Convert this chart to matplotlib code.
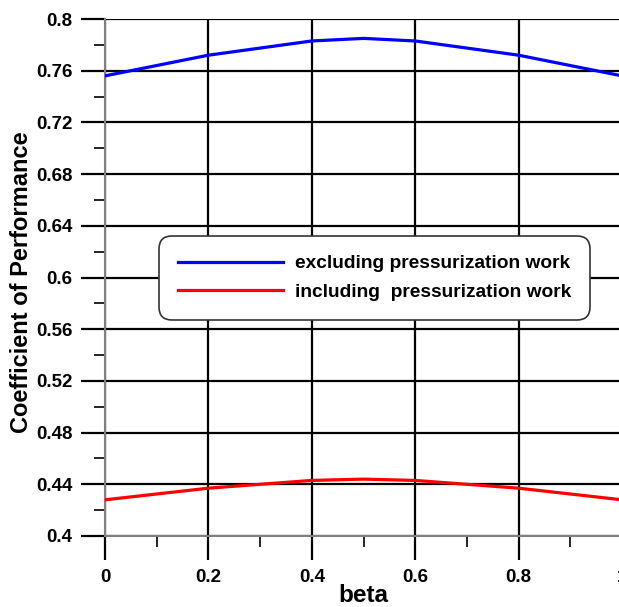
import numpy as np
import matplotlib
matplotlib.use("Agg")
import matplotlib.pyplot as plt
from matplotlib.ticker import MultipleLocator

beta = [0.0, 0.2, 0.4, 0.5, 0.6, 0.8, 1.0]
cop_excl = [0.756, 0.772, 0.783, 0.785, 0.783, 0.772, 0.756]
cop_incl = [0.428, 0.437, 0.443, 0.444, 0.443, 0.437, 0.428]
labels = ["excluding pressurization work", "including  pressurization work"]

plt.rcParams['font.family'] = ['Liberation Sans', 'DejaVu Sans']
plt.rcParams['font.weight'] = 'bold'

fig = plt.figure(figsize=(6.19, 6.07), dpi=100)
ax = fig.add_axes([105/619, 71/607, 517/619, 517/607])

ax.plot(beta, cop_excl, color="#0000ff", lw=2.3, label=labels[0], zorder=3)
ax.plot(beta, cop_incl, color="#ff0000", lw=2.3, label=labels[1], zorder=3)

ax.set_xlim(0, 1)
ax.set_ylim(0.4, 0.8)
ax.xaxis.set_minor_locator(MultipleLocator(0.1))
ax.yaxis.set_minor_locator(MultipleLocator(0.02))
ax.set_xticks([0, 0.2, 0.4, 0.6, 0.8, 1.0])
ax.set_xticklabels(["0", "0.2", "0.4", "0.6", "0.8", "1"])
ax.set_yticks(np.arange(0.4, 0.801, 0.04))
ax.set_yticklabels(["0.4", "0.44", "0.48", "0.52", "0.56", "0.6",
                    "0.64", "0.68", "0.72", "0.76", "0.8"])

ax.grid(True, which="major", color="black", lw=1.6, zorder=1)
ax.tick_params(which="major", direction="out", length=17, width=1.6,
               color="black", labelsize=13.5)
ax.tick_params(axis="x", which="major", pad=7)
ax.tick_params(axis="y", which="major", pad=6.5)
ax.tick_params(which="minor", direction="out", length=8, width=1.2, color="black")
for lbl in ax.get_xticklabels() + ax.get_yticklabels():
    lbl.set_fontweight("bold")

for s in ["left", "bottom"]:
    ax.spines[s].set_color("#808080")
    ax.spines[s].set_linewidth(1.5)
ax.spines["top"].set_visible(False)
ax.spines["right"].set_visible(False)

ax.set_xlabel("beta", fontsize=17.5, fontweight="bold")
ax.xaxis.set_label_coords(0.5, -0.093)
ax.set_ylabel("Coefficient of Performance", fontsize=17, fontweight="bold")
ax.yaxis.set_label_coords(-0.139, 0.491)

leg = ax.legend(loc="center", bbox_to_anchor=(0.521, 0.499), fontsize=13.8,
                frameon=True, fancybox=True, handlelength=5.5,
                borderpad=1.0, labelspacing=0.6, handletextpad=0.6,
                borderaxespad=0)
frame = leg.get_frame()
frame.set_boxstyle("round,pad=0,rounding_size=0.7")
frame.set_edgecolor("#333333")
frame.set_linewidth(1.2)
frame.set_alpha(1)
for t in leg.get_texts():
    t.set_fontweight("bold")

fig.savefig("out.png", dpi=100)
